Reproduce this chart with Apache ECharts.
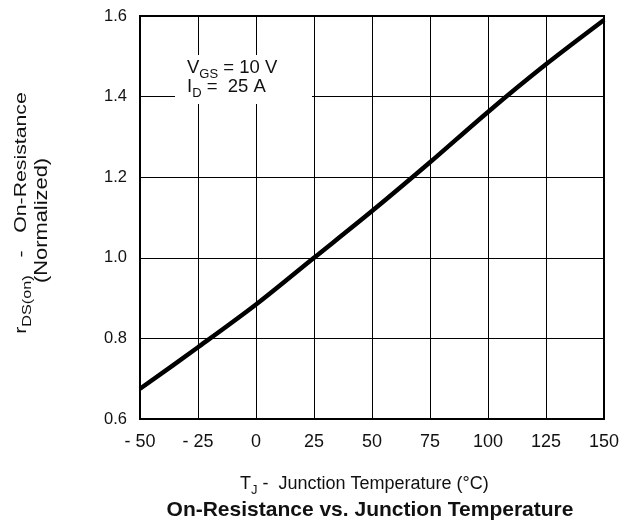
<!DOCTYPE html>
<html>
<head>
<meta charset="utf-8">
<script src="https://cdn.jsdelivr.net/npm/echarts@6/dist/echarts.min.js"></script>
<style>
  html, body { margin: 0; padding: 0; background: #fff; }
  #chart { width: 636px; height: 522px; }
</style>
</head>
<body>
<div id="chart"></div>
<script>
// Normalized on-resistance vs. junction temperature
const tempC = [-50, -25, 0, 25, 50, 75, 100, 125, 150];
const rdsNorm = [0.675, 0.778, 0.884, 1.0, 1.116, 1.237, 1.362, 1.48, 1.59];
const xTicks = [-50, 150, 25];   // min, max, step
const yTicks = [0.6, 1.6, 0.2];  // min, max, step

const FONT = '"Liberation Sans", Arial, Helvetica, sans-serif';
const INK = '#111';

const measureCtx = document.createElement('canvas').getContext('2d');
function textWidth(t, size, weight) {
  measureCtx.font = (weight || 'normal') + ' ' + size + 'px ' + FONT;
  return measureCtx.measureText(t).width;
}

// Baseline-aligned run of text pieces (normal text plus subscripts)
function textRun(pieces, x, baseline, align) {
  const widths = pieces.map(p => textWidth(p.t, p.size, p.weight));
  const total = widths.reduce((a, b) => a + b, 0);
  let cx = align === 'center' ? x - total / 2 : x;
  return pieces.map((p, i) => {
    const el = {
      type: 'text',
      x: cx,
      y: baseline + (p.sub || 0) - 0.31 * p.size,
      z: 11,
      style: {
        text: p.t,
        fill: INK,
        fontFamily: FONT,
        fontSize: p.size,
        fontWeight: p.weight || 'normal',
        align: 'left',
        verticalAlign: 'middle'
      }
    };
    cx += widths[i];
    return el;
  });
}

const chart = echarts.init(document.getElementById('chart'), null, { renderer: 'canvas' });

// Test-condition note on a white patch over the grid
const annotation = [
  { type: 'rect', z: 10, shape: { x: 175, y: 55, width: 137, height: 49 }, style: { fill: '#fff' } }
].concat(
  textRun([{ t: 'V', size: 18.5 }, { t: 'GS', size: 13, sub: 4 }, { t: ' = 10 V', size: 18.5 }], 187, 74),
  textRun([{ t: 'I', size: 18.5 }, { t: 'D', size: 13, sub: 4 }, { t: ' =  25 A', size: 18.5 }], 187, 93)
);

const xTitle = textRun([
  { t: 'T', size: 18 }, { t: 'J', size: 13, sub: 4 }, { t: ' -  Junction Temperature (°C)', size: 18 }
], 240, 490);

const chartTitle = textRun([
  { t: 'On-Resistance vs. Junction Temperature', size: 21, weight: 'bold' }
], 370, 517, 'center');

// Rotated y-axis title: reads bottom to top
const yTitle = {
  type: 'group',
  x: 27,
  y: 213,
  rotation: Math.PI / 2,
  scaleX: 1.25,
  children: textRun([
    { t: 'r', size: 17 }, { t: 'DS(on)', size: 13, sub: 4 }, { t: '   -   On-Resistance', size: 17 }
  ], 0, 0, 'center').concat(
    textRun([{ t: '(Normalized)', size: 17.5 }], -6, 21, 'center')
  )
};

chart.setOption({
  animation: false,
  backgroundColor: '#fff',
  grid: {
    left: 140, top: 16, right: 32, bottom: 103,
    show: true, borderColor: '#000', borderWidth: 2, backgroundColor: 'transparent'
  },
  xAxis: {
    type: 'value',
    min: xTicks[0], max: xTicks[1], interval: xTicks[2],
    axisLine: { show: false },
    axisTick: { show: false },
    splitLine: { show: true, lineStyle: { color: '#000', width: 1 } },
    axisLabel: {
      color: INK, fontFamily: FONT, fontSize: 18, margin: 14,
      formatter: v => (v < 0 ? '- ' + (-v) : String(v))
    }
  },
  yAxis: {
    type: 'value',
    min: yTicks[0], max: yTicks[1], interval: yTicks[2],
    axisLine: { show: false },
    axisTick: { show: false },
    splitLine: { show: true, lineStyle: { color: '#000', width: 1 } },
    axisLabel: {
      color: INK, fontFamily: FONT, fontSize: 16.5, margin: 13,
      formatter: v => v.toFixed(1)
    }
  },
  series: [{
    type: 'line',
    data: tempC.map((t, i) => [t, rdsNorm[i]]),
    showSymbol: false,
    smooth: 0.3,
    lineStyle: { color: '#000', width: 4.5 },
    z: 5
  }],
  graphic: annotation.concat(xTitle, chartTitle, [yTitle])
});
</script>
</body>
</html>
